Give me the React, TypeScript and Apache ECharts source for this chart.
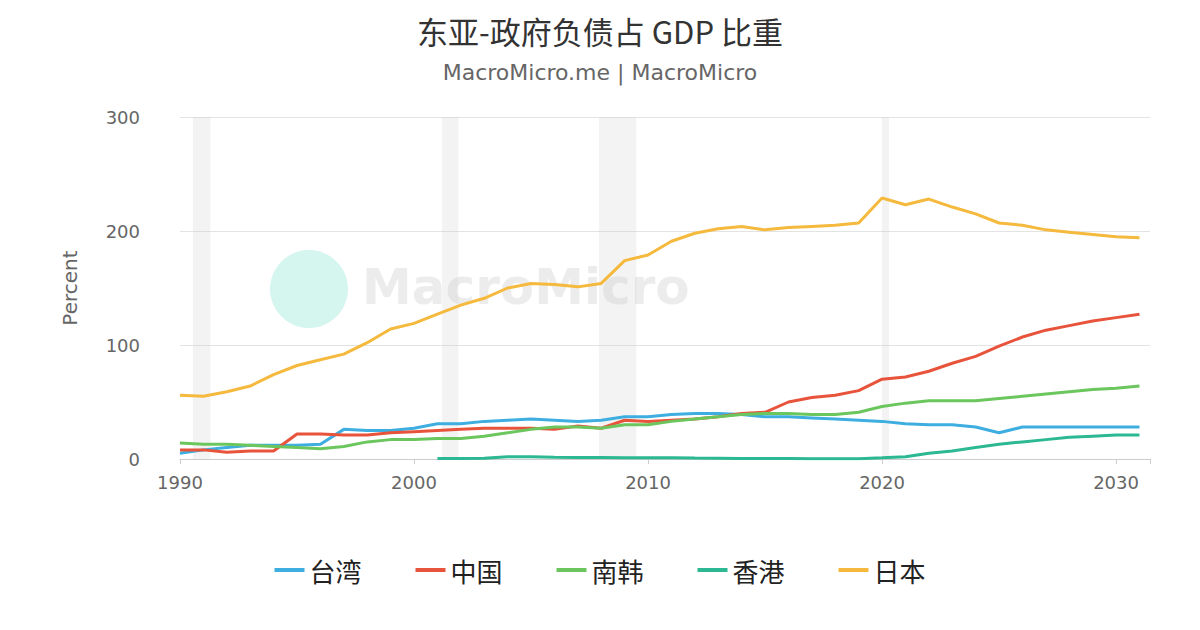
import React, { useEffect, useRef } from 'react';
import * as echarts from 'echarts';

const years = Array.from({ length: 42 }, (_, i) => 1990 + i);

const japan = [56, 55, 59, 64, 74, 82, 87, 92, 102, 114, 119, 127, 135, 141, 150, 154, 153, 151, 154, 174, 179, 191, 198, 202, 204, 201, 203, 204, 205, 207, 229, 223, 228, 221, 215, 207, 205, 201, 199, 197, 195, 194];
const china = [8, 8, 6, 7, 7, 22, 22, 21, 21, 23, 24, 25, 26, 27, 27, 27, 26, 29, 27, 34, 33, 34, 35, 37, 40, 41, 50, 54, 56, 60, 70, 72, 77, 84, 90, 99, 107, 113, 117, 121, 124, 127];
const taiwan = [5, 8, 10, 12, 12, 12, 13, 26, 25, 25, 27, 31, 31, 33, 34, 35, 34, 33, 34, 37, 37, 39, 40, 40, 39, 37, 37, 36, 35, 34, 33, 31, 30, 30, 28, 23, 28, 28, 28, 28, 28, 28];
const korea = [14, 13, 13, 12, 11, 10, 9, 11, 15, 17, 17, 18, 18, 20, 23, 26, 28, 28, 27, 30, 30, 33, 35, 37, 39, 40, 40, 39, 39, 41, 46, 49, 51, 51, 51, 53, 55, 57, 59, 61, 62, 64];
const hongkong: (number | null)[] = [null, null, null, null, null, null, null, null, null, null, null, 0.5, 0.5, 0.7, 2, 2, 1.5, 1.4, 1.3, 1, 1, 1, 0.8, 0.7, 0.5, 0.4, 0.4, 0.3, 0.3, 0.3, 1, 2, 5, 7, 10, 13, 15, 17, 19, 20, 21, 21];

const recessions = [[1990.55, 1991.3], [2001.2, 2001.9], [2007.9, 2009.5], [2020.0, 2020.3]];

const pair = (arr: (number | null)[]) => years.map((y, i) => [y, arr[i]]);

const App: React.FC = () => {
  const ref = useRef<HTMLDivElement>(null);

  useEffect(() => {
    const chart = echarts.init(ref.current!, null, { renderer: 'svg' });
    const font = 'DejaVu Sans';
    const line = (name: string, color: string, data: (number | null)[], extra: any = {}) => ({
      name, type: 'line', data: pair(data), showSymbol: false, connectNulls: false,
      lineStyle: { width: 3, color }, itemStyle: { color }, ...extra,
    });
    chart.setOption({
      animation: false,
      textStyle: { fontFamily: font },
      title: {
        text: '东亚-政府负债占 GDP 比重', subtext: 'MacroMicro.me | MacroMicro', left: 'center', top: 2,
        textStyle: { fontSize: 31, fontWeight: 'normal', color: '#333', fontFamily: 'Noto Sans CJK SC' },
        subtextStyle: { fontSize: 22, color: '#666', fontFamily: font }, itemGap: 16,
      },
      graphic: [
        { type: 'circle', shape: { cx: 301, cy: 281, r: 39 }, style: { fill: '#d5f5ef' } },
        { type: 'text', left: 354, top: 254, style: { text: 'MacroMicro', font: 'bold 50px DejaVu Sans', fill: 'rgba(200,200,200,0.35)' } },
      ],
      legend: {
        bottom: 34, itemWidth: 30, itemHeight: 4, itemGap: 54, icon: 'rect',
        textStyle: { fontSize: 26, color: '#222', fontFamily: 'Noto Sans CJK SC' },
      },
      grid: { left: 172, right: 42, top: 109, bottom: 163 },
      xAxis: {
        type: 'value', min: 1990, max: 2031.45, interval: 10,
        axisLine: { lineStyle: { color: '#ccc' } }, axisTick: { show: true, lineStyle: { color: '#ccc' } },
        splitLine: { show: false },
        axisLabel: { fontSize: 18, color: '#666', margin: 14, formatter: (v: number) => (v % 10 === 0 ? String(v) : '') },
      },
      yAxis: {
        type: 'value', min: 0, max: 300, interval: 100, name: 'Percent', nameLocation: 'middle', nameGap: 100,
        nameTextStyle: { fontSize: 20, color: '#666' },
        axisTick: { show: false }, axisLine: { show: false },
        axisLabel: { fontSize: 18, color: '#666', margin: 40 },
        splitLine: { lineStyle: { color: '#e3e3e3' } },
      },
      series: [
        line('台湾', '#3eaee0', taiwan, {
          markArea: { silent: true, itemStyle: { color: 'rgba(200,200,200,0.22)' }, data: recessions.map(([a, b]) => [{ xAxis: a }, { xAxis: b }]) },
        }),
        line('中国', '#e8533b', china),
        line('南韩', '#6cc65e', korea),
        line('香港', '#2bb892', hongkong),
        line('日本', '#f5b93d', japan),
      ],
    });
    return () => chart.dispose();
  }, []);

  return <div ref={ref} style={{ width: 1184, height: 614 }} />;
};

export default App;
